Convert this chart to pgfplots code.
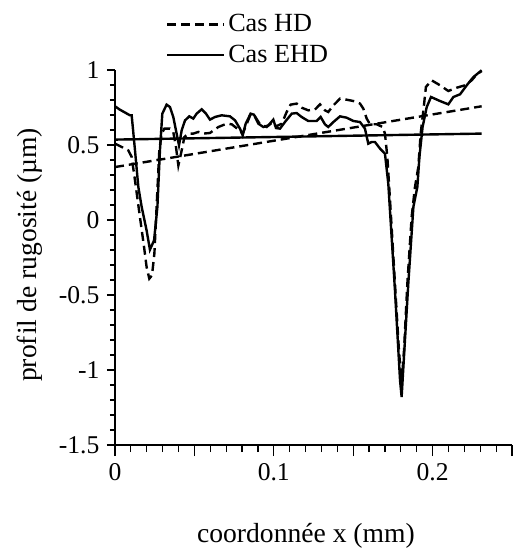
\documentclass[border=0pt]{standalone}
\usepackage{fontspec}
\setmainfont{Liberation Serif}
\usepackage{pgfplots}
\pgfplotsset{compat=1.18}
\begin{document}
\begin{tikzpicture}
\begin{axis}[
  at={(0,0)}, anchor=south west,
  scale only axis, width=198.5pt, height=187.5pt,
  xmin=0, xmax=0.25, ymin=-1.5, ymax=1,
  axis x line=bottom, axis y line=left,
  axis line style={-, line width=0.7pt},
  tick align=outside,
  xtick={0,0.05,0.1,0.15,0.2,0.25}, xticklabels={0,,0.1,,0.2,},
  ytick={-1.5,-1,-0.5,0,0.5,1}, yticklabels={-1.5,-1,-0.5,0,0.5,1},
  minor x tick num=4, minor y tick num=4,
  x tick style={/pgfplots/major tick length=5.5pt, /pgfplots/minor tick length=3.5pt, line width=0.6pt, black},
  y tick style={/pgfplots/major tick length=4pt, /pgfplots/minor tick length=2.5pt, line width=0.6pt, black},
  tick label style={font=\fontsize{12.8}{14}\selectfont},
  xticklabel style={yshift=-1.5pt},
  label style={font=\fontsize{13.8}{16}\selectfont},
  xlabel={coordonnée x (mm)},
  ylabel={prof\kern0.6pt il de rugosité (µm)},
  xlabel style={at={(axis description cs:0.481,-0.19)}, anchor=north},
  ylabel style={at={(axis description cs:-0.164,0.507)}, anchor=south},
  clip=false,
  legend style={draw=none, fill=none, at={(0.112,1.168)}, anchor=north west,
    font=\fontsize{13.1}{15}\selectfont, row sep=2pt, nodes={inner sep=1.5pt}},
  legend cell align=left,
  legend image code/.code={\draw[#1] (0pt,0pt) -- (28.5pt,0pt);},
]
% HD profile (dashed)
\addplot[black, line width=1.2pt, dash pattern=on 4.5pt off 2.5pt] coordinates {
(0,0.509) (0.0042,0.487) (0.0084,0.464) (0.0105,0.42) (0.0126,0.264) (0.0157,0.02)
(0.0183,-0.18) (0.0199,-0.313) (0.0216,-0.391) (0.0233,-0.369) (0.0248,-0.224)
(0.0262,0.087) (0.0279,0.464) (0.0294,0.576) (0.0311,0.609) (0.0346,0.609)
(0.0367,0.587) (0.0384,0.487) (0.0399,0.364) (0.042,0.464) (0.0437,0.553)
(0.0462,0.576) (0.0493,0.576) (0.0525,0.587) (0.0556,0.576) (0.0598,0.58)
(0.0651,0.62) (0.0703,0.642) (0.0735,0.638) (0.077,0.609) (0.0804,0.576)
(0.083,0.642) (0.0854,0.705) (0.0882,0.69) (0.0913,0.638) (0.0955,0.62)
(0.0993,0.653) (0.1014,0.624) (0.105,0.642) (0.1081,0.72) (0.1106,0.769)
(0.1144,0.776) (0.1175,0.749) (0.1217,0.731) (0.1259,0.736) (0.1291,0.771)
(0.1322,0.731) (0.1343,0.72) (0.1375,0.764) (0.1417,0.809) (0.1459,0.802)
(0.1511,0.791) (0.1543,0.776) (0.1564,0.742) (0.1585,0.676) (0.1606,0.638)
(0.1648,0.638) (0.1686,0.62) (0.17,0.576) (0.1715,0.42) (0.1732,0.131)
(0.1763,-0.424) (0.1788,-0.869) (0.1805,-1.09) (0.182,-0.869) (0.1841,-0.424)
(0.1868,0.02) (0.1889,0.22) (0.191,0.353) (0.1925,0.576) (0.1942,0.731)
(0.1958,0.887) (0.1994,0.931) (0.2047,0.898) (0.2099,0.86) (0.2152,0.882)
(0.2204,0.898) (0.2246,0.931) (0.2278,0.971) (0.2309,0.993)
};
\addlegendentry{Cas HD}
% EHD profile (solid)
\addplot[black, line width=1.2pt] coordinates {
(0,0.758) (0.003,0.736) (0.0094,0.698) (0.0105,0.698) (0.0126,0.464) (0.0147,0.22)
(0.0168,0.087) (0.0199,-0.069) (0.022,-0.198) (0.0246,-0.136) (0.0267,0.087)
(0.0283,0.464) (0.0298,0.709) (0.0325,0.769) (0.0346,0.753) (0.0367,0.687)
(0.0388,0.576) (0.0403,0.498) (0.042,0.598) (0.0441,0.664) (0.0468,0.691)
(0.0493,0.676) (0.0514,0.709) (0.0546,0.738) (0.0573,0.709) (0.0598,0.669)
(0.063,0.687) (0.0672,0.698) (0.0724,0.691) (0.0756,0.664) (0.0787,0.609)
(0.0804,0.564) (0.0823,0.642) (0.0854,0.709) (0.0875,0.702) (0.0903,0.642)
(0.0934,0.62) (0.0966,0.631) (0.0997,0.669) (0.1014,0.613) (0.1039,0.609)
(0.107,0.653) (0.1113,0.709) (0.1144,0.713) (0.1175,0.687) (0.1217,0.66)
(0.127,0.66) (0.1295,0.687) (0.1322,0.638) (0.1343,0.62) (0.1375,0.653)
(0.1417,0.691) (0.1459,0.682) (0.1501,0.66) (0.1543,0.653) (0.1574,0.609)
(0.1595,0.509) (0.1616,0.52) (0.1637,0.52) (0.1669,0.476) (0.17,0.442)
(0.1721,0.242) (0.1763,-0.469) (0.1795,-1.069) (0.1805,-1.18) (0.1816,-0.98)
(0.1847,-0.424) (0.1879,0.087) (0.1904,0.22) (0.1917,0.42) (0.1937,0.62)
(0.1963,0.753) (0.199,0.82) (0.2047,0.793) (0.2099,0.771) (0.2131,0.82)
(0.2173,0.838) (0.2215,0.898) (0.2257,0.953) (0.2309,0.998)
};
\addlegendentry{Cas EHD}
% mean lines
\addplot[black, line width=1.2pt, dash pattern=on 4.5pt off 2.5pt, forget plot] coordinates {(0,0.353) (0.2309,0.758)};
\addplot[black, line width=1.2pt, forget plot] coordinates {(0,0.536) (0.2309,0.576)};
\end{axis}
\pgfresetboundingbox
\path[use as bounding box] (-57.5pt,-53pt) rectangle (199pt,222.5pt);
\end{tikzpicture}
\end{document}
